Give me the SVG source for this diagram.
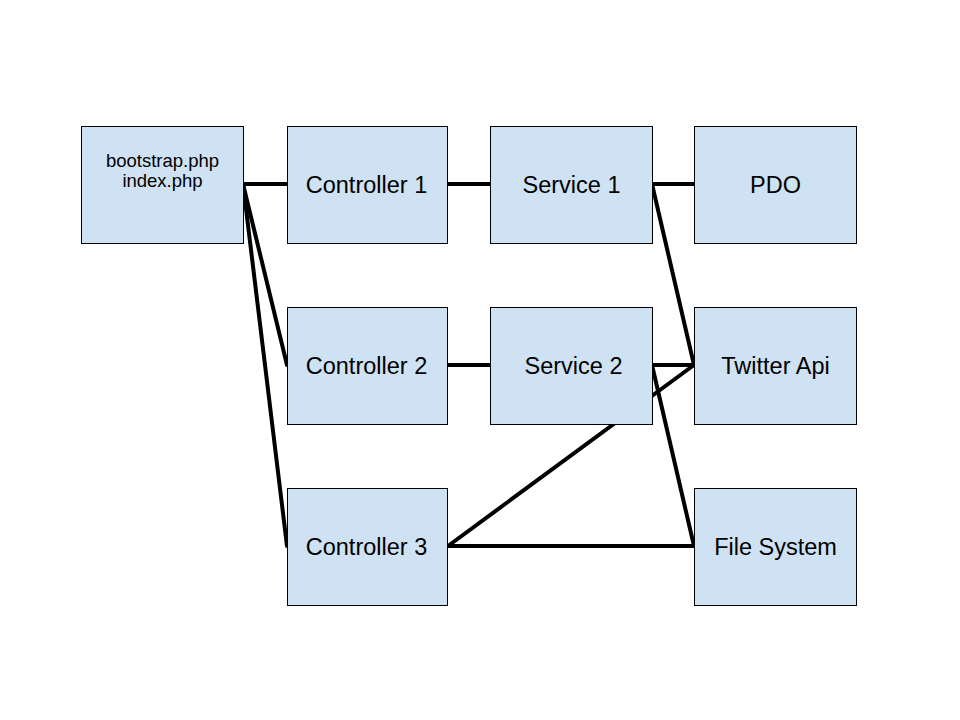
<svg xmlns="http://www.w3.org/2000/svg" width="960" height="720" viewBox="0 0 960 720">
<style>
.box{fill:#cfe2f3;stroke:#000;stroke-width:1}
.lbl{font-family:"Liberation Sans",Arial,sans-serif;font-size:23.5px;fill:#000;text-anchor:middle;dominant-baseline:central}
.sm{font-family:"Liberation Sans",Arial,sans-serif;font-size:18.5px;fill:#000;text-anchor:middle}
.c{stroke:#000;stroke-width:4;fill:none;stroke-linecap:round}
</style>
<rect width="960" height="720" fill="#fff"/>
<g id="connectors">
<line class="c" x1="243" y1="184" x2="287" y2="184"/>
<line class="c" x1="243" y1="184" x2="287" y2="365"/>
<line class="c" x1="243" y1="184" x2="287" y2="546"/>
<line class="c" x1="447" y1="184" x2="490" y2="184"/>
<line class="c" x1="652" y1="184" x2="694" y2="184"/>
<line class="c" x1="652" y1="184" x2="694" y2="365"/>
<line class="c" x1="447" y1="365" x2="490" y2="365"/>
<line class="c" x1="652" y1="365" x2="694" y2="365"/>
<line class="c" x1="652" y1="365" x2="694" y2="546"/>
<line class="c" x1="448" y1="546" x2="694" y2="365"/>
<line class="c" x1="448" y1="546" x2="694" y2="546"/>
</g>
<g id="bootstrap"><rect class="box" x="81.5" y="126.5" width="162" height="117"/><text class="sm" x="162.5" y="167">bootstrap.php</text><text class="sm" x="162.5" y="187">index.php</text></g>
<g id="controller1"><rect class="box" x="287.5" y="126.5" width="160" height="117"/><text class="lbl" x="366.5" y="185">Controller 1</text></g>
<g id="service1"><rect class="box" x="490.5" y="126.5" width="162" height="117"/><text class="lbl" x="571.5" y="185">Service 1</text></g>
<g id="pdo"><rect class="box" x="694.5" y="126.5" width="162" height="117"/><text class="lbl" x="775.5" y="185">PDO</text></g>
<g id="controller2"><rect class="box" x="287.5" y="307.5" width="160" height="117"/><text class="lbl" x="366.5" y="366">Controller 2</text></g>
<g id="service2"><rect class="box" x="490.5" y="307.5" width="162" height="117"/><text class="lbl" x="573.5" y="366">Service 2</text></g>
<g id="twitter"><rect class="box" x="694.5" y="307.5" width="162" height="117"/><text class="lbl" x="775.5" y="366">Twitter Api</text></g>
<g id="controller3"><rect class="box" x="287.5" y="488.5" width="160" height="117"/><text class="lbl" x="366.5" y="547">Controller 3</text></g>
<g id="filesystem"><rect class="box" x="694.5" y="488.5" width="162" height="117"/><text class="lbl" x="775.5" y="547">File System</text></g>
</svg>
